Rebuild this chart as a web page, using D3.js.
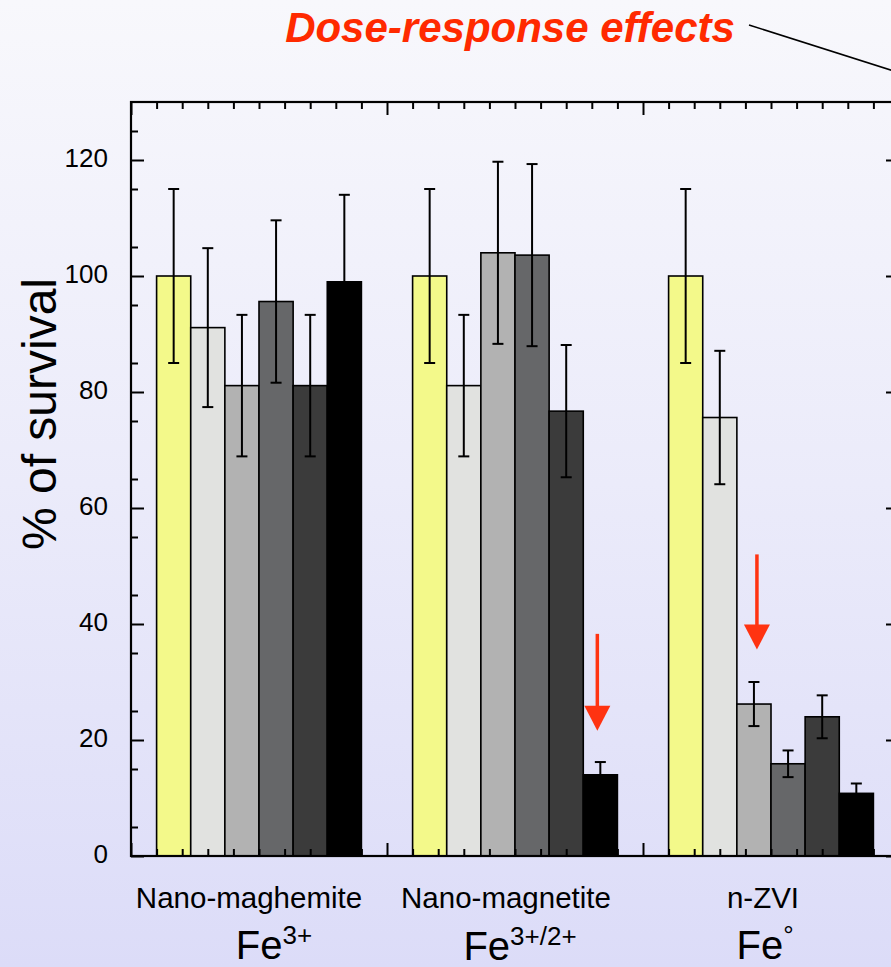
<!DOCTYPE html>
<html>
<head>
<meta charset="utf-8">
<script src="https://cdn.jsdelivr.net/npm/d3@7"></script>
<style>
  body { margin: 0; padding: 0; }
  svg { display: block; font-family: "Liberation Sans", Arial, sans-serif; }
</style>
</head>
<body>
<div id="chart"></div>
<script>
// Particle types along the x axis
const groups = ['Nano-maghemite', 'Nano-magnetite', 'n-ZVI'];
// Iron oxidation state shown under each group
const ionBase = ['Fe', 'Fe', 'Fe'];
const ionSup = ['3+', '3+/2+', '°'];
// % of survival for each dose (6 doses per group)
const survival = [
  [100, 91.1, 81.1, 95.6, 81.1, 99.0],
  [100, 81.1, 104.0, 103.6, 76.7, 14.0],
  [100, 75.6, 26.2, 15.9, 24.0, 10.8]
];
// error bar half-widths
const errors = [
  [15, 13.7, 12.2, 14.0, 12.2, 15.0],
  [15, 12.2, 15.7, 15.7, 11.4, 2.2],
  [15, 11.5, 3.8, 2.3, 3.7, 1.7]
];
// red arrows pointing at the first toxic dose: group, dose, from value, to value
const arrowGroup = [1, 2];
const arrowDose = [5, 2];
const arrowFrom = [38.3, 52.0];
const arrowTo = [21.6, 35.6];
const yTicks = [0, 20, 40, 60, 80, 100, 120];

const doseColors = ['#f3f98a', '#e1e2e0', '#b2b2b2', '#666769', '#3b3b3b', '#000000'];

class DoseChart {
  constructor(_config) {
    this.config = {
      parentElement: _config.parentElement,
      containerWidth: 891,
      containerHeight: 967,
      plotLeft: 131,
      plotRight: 899,
      plotTop: 102,
      plotBottom: 856,
      majorTick: 13,
      minorTick: 7
    };
    this.initVis();
  }

  initVis() {
    let vis = this;
    const c = vis.config;

    vis.svg = d3.select(c.parentElement).append('svg')
        .attr('width', c.containerWidth)
        .attr('height', c.containerHeight);

    // background gradient
    const grad = vis.svg.append('defs').append('linearGradient')
        .attr('id', 'bg-gradient')
        .attr('x1', 0).attr('y1', 0).attr('x2', 0).attr('y2', 1);
    grad.append('stop').attr('offset', '0%').attr('stop-color', '#f8f8fc');
    grad.append('stop').attr('offset', '50%').attr('stop-color', '#ebebfa');
    grad.append('stop').attr('offset', '100%').attr('stop-color', '#dcdcf8');

    vis.svg.append('rect')
        .attr('width', c.containerWidth)
        .attr('height', c.containerHeight)
        .attr('fill', 'url(#bg-gradient)');

    vis.xScale = d3.scaleLinear().domain([0, 3]).range([c.plotLeft, c.plotRight]);
    vis.yScale = d3.scaleLinear().domain([0, 130]).range([c.plotBottom, c.plotTop]);

    vis.chart = vis.svg.append('g');
    vis.renderVis();
  }

  renderVis() {
    let vis = this;
    const c = vis.config;
    const x = vis.xScale, y = vis.yScale;
    const barW = 0.8 / 6;

    const bars = [];
    survival.forEach((row, g) => row.forEach((v, j) => {
      bars.push({ g: g, j: j, value: v, err: errors[g][j], x0: g + 0.1 + j * barW });
    }));

    // bars
    vis.chart.selectAll('.bar')
        .data(bars)
      .join('rect')
        .attr('class', 'bar')
        .attr('x', d => x(d.x0))
        .attr('width', d => x(d.x0 + barW) - x(d.x0))
        .attr('y', d => y(d.value))
        .attr('height', d => y(0) - y(d.value))
        .attr('fill', d => doseColors[d.j])
        .attr('stroke', '#000')
        .attr('stroke-width', 1.6);

    // error bars
    const eb = vis.chart.selectAll('.err')
        .data(bars)
      .join('g')
        .attr('class', 'err')
        .attr('stroke', '#000')
        .attr('stroke-width', 2);
    eb.append('line')
        .attr('x1', d => x(d.x0 + barW / 2)).attr('x2', d => x(d.x0 + barW / 2))
        .attr('y1', d => y(d.value - d.err)).attr('y2', d => y(d.value + d.err));
    eb.append('line')
        .attr('x1', d => x(d.x0 + barW / 2) - 5.5).attr('x2', d => x(d.x0 + barW / 2) + 5.5)
        .attr('y1', d => y(d.value + d.err)).attr('y2', d => y(d.value + d.err));
    eb.append('line')
        .attr('x1', d => x(d.x0 + barW / 2) - 5.5).attr('x2', d => x(d.x0 + barW / 2) + 5.5)
        .attr('y1', d => y(d.value - d.err)).attr('y2', d => y(d.value - d.err));

    // axes with inward ticks on all four sides
    const majorX = [0, 1, 2, 3];
    const minorX = d3.range(0, 31).map(i => i / 10).filter(v => Math.round(v * 10) % 10 !== 0);
    const minorY = d3.range(5, 130, 10);

    const addAxis = (axisFn, scale, values, size, translate, labels) => {
      const a = axisFn(scale).tickValues(values).tickSizeInner(-size).tickSizeOuter(0);
      if (labels) {
        a.tickPadding(23).tickFormat(d3.format('d'));
      } else {
        a.tickFormat('');
      }
      const g = vis.chart.append('g')
          .attr('transform', translate)
          .call(a);
      g.select('.domain').remove();
      g.selectAll('.tick line').attr('stroke', '#000').attr('stroke-width', 2);
      return g;
    };

    addAxis(d3.axisBottom, x, majorX, c.majorTick, `translate(0,${c.plotBottom})`);
    addAxis(d3.axisBottom, x, minorX, c.minorTick, `translate(0,${c.plotBottom})`);
    addAxis(d3.axisTop, x, majorX, c.majorTick, `translate(0,${c.plotTop})`);
    addAxis(d3.axisTop, x, minorX, c.minorTick, `translate(0,${c.plotTop})`);
    const yAxis = addAxis(d3.axisLeft, y, yTicks, c.majorTick, `translate(${c.plotLeft},0)`, true);
    yAxis.selectAll('.tick text')
        .attr('font-size', 26)
        .attr('font-family', '"Liberation Sans", Arial, sans-serif')
        .attr('fill', '#000')
        .attr('dy', '0.24em');
    addAxis(d3.axisLeft, y, minorY, c.minorTick, `translate(${c.plotLeft},0)`);
    addAxis(d3.axisRight, y, yTicks, c.majorTick, `translate(${c.plotRight},0)`);
    addAxis(d3.axisRight, y, minorY, c.minorTick, `translate(${c.plotRight},0)`);

    // frame
    vis.chart.append('rect')
        .attr('x', c.plotLeft)
        .attr('y', c.plotTop)
        .attr('width', c.plotRight - c.plotLeft)
        .attr('height', c.plotBottom - c.plotTop)
        .attr('fill', 'none')
        .attr('stroke', '#000')
        .attr('stroke-width', 2.2);

    // red arrows
    const arrowDx = [-3, 3];
    arrowGroup.forEach((g, i) => {
      const ax = x(g + 0.1 + (arrowDose[i] + 0.5) * barW) + arrowDx[i];
      const yTop = y(arrowFrom[i]);
      const yTip = y(arrowTo[i]);
      vis.chart.append('line')
          .attr('x1', ax).attr('x2', ax)
          .attr('y1', yTop).attr('y2', yTip - 20)
          .attr('stroke', '#ff3311')
          .attr('stroke-width', 3.5);
      vis.chart.append('path')
          .attr('d', `M${ax - 13},${yTip - 25}L${ax + 13},${yTip - 25}L${ax},${yTip}Z`)
          .attr('fill', '#ff3311');
    });

    // group labels
    const labelDx = [-10, -9, -8];
    vis.svg.selectAll('.group-label')
        .data(groups)
      .join('text')
        .attr('class', 'group-label')
        .attr('x', (d, i) => x(i + 0.5) + labelDx[i])
        .attr('y', 908)
        .attr('text-anchor', 'middle')
        .attr('font-size', 29.5)
        .attr('fill', '#000')
        .text(d => d);

    const ionDx = [15, 5, -6];
    const ionY = [959, 960, 959];
    const ion = vis.svg.selectAll('.ion-label')
        .data(ionBase)
      .join('text')
        .attr('class', 'ion-label')
        .attr('x', (d, i) => x(i + 0.5) + ionDx[i])
        .attr('y', (d, i) => ionY[i])
        .attr('text-anchor', 'middle')
        .attr('font-size', 40)
        .attr('fill', '#000');
    ion.append('tspan').text(d => d);
    ion.append('tspan')
        .attr('font-size', 26)
        .attr('dy', -15)
        .text((d, i) => ionSup[i]);

    // y axis title
    vis.svg.append('text')
        .attr('transform', 'translate(56,414) rotate(-90)')
        .attr('text-anchor', 'middle')
        .attr('font-size', 48)
        .attr('fill', '#000')
        .text('% of survival');

    // title with pointer line
    vis.svg.append('text')
        .attr('x', 510)
        .attr('y', 42)
        .attr('text-anchor', 'middle')
        .attr('font-size', 42)
        .attr('font-weight', 'bold')
        .attr('font-style', 'italic')
        .attr('fill', '#ff2a00')
        .text('Dose-response effects');

    vis.svg.append('line')
        .attr('x1', 749).attr('y1', 25)
        .attr('x2', 900).attr('y2', 73)
        .attr('stroke', '#000')
        .attr('stroke-width', 1.5);
  }
}

new DoseChart({ parentElement: '#chart' });
</script>
</body>
</html>
